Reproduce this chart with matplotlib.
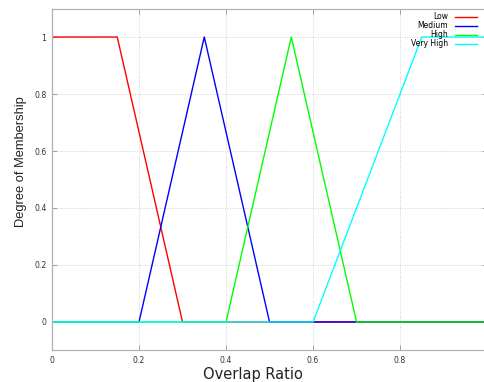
import matplotlib
matplotlib.use("Agg")
import matplotlib.pyplot as plt

# Membership function breakpoints (x) and degrees (y)
low_x = [0.0, 0.15, 0.30, 1.0]
low_y = [1.0, 1.0, 0.0, 0.0]
medium_x = [0.0, 0.20, 0.35, 0.50, 1.0]
medium_y = [0.0, 0.0, 1.0, 0.0, 0.0]
high_x = [0.0, 0.40, 0.55, 0.70, 1.0]
high_y = [0.0, 0.0, 1.0, 0.0, 0.0]
very_high_x = [0.0, 0.60, 0.85, 1.0]
very_high_y = [0.0, 0.0, 1.0, 1.0]

series = [
    ("Low", low_x, low_y, "#ff0000"),
    ("Medium", medium_x, medium_y, "#0000ff"),
    ("High", high_x, high_y, "#00ff00"),
    ("Very High", very_high_x, very_high_y, "#00ffff"),
]

x_ticks = [0, 0.2, 0.4, 0.6, 0.8, 1]
y_ticks = [0, 0.2, 0.4, 0.6, 0.8, 1]
tick_labels = ["0", "0.2", "0.4", "0.6", "0.8", "1"]

fig = plt.figure(figsize=(4.84, 3.82), dpi=100)
ax = fig.add_axes([0.1074, 0.0825, 0.899, 0.8952])

for name, xs, ys, col in series:
    ax.plot(xs, ys, color=col, lw=1.0, label=name)

ax.set_xlim(0, 1)
ax.set_ylim(-0.1, 1.1)
ax.set_xticks(x_ticks)
ax.set_yticks(y_ticks)
ax.set_xticklabels(tick_labels)
ax.set_yticklabels(tick_labels)
ax.tick_params(direction="in", length=3.6, width=0.7, color="#a0a0a0",
               labelsize=5.6, labelcolor="#333333", pad=4,
               top=True, right=True)
ax.grid(True, color="#c0c0c0", linestyle=(0, (1, 2)), linewidth=0.6)
for s in ax.spines.values():
    s.set_color("#b0b0b0")
    s.set_linewidth(0.9)

ax.set_xlabel("Overlap Ratio", fontsize=10.5, color="#222222")
ax.xaxis.set_label_coords(0.462, -0.048)
ax.set_ylabel("Degree of Membership", fontsize=9.3, color="#222222",
              family=["Liberation Sans", "DejaVu Sans"])
ax.yaxis.set_label_coords(-0.0575, 0.551)

leg = ax.legend(loc="upper right", fontsize=5.5, frameon=False,
                markerfirst=False, handlelength=2.9, handletextpad=0.9,
                labelspacing=0.0, borderaxespad=0.0, borderpad=0.0,
                bbox_to_anchor=(0.977, 0.989))
for t in leg.get_texts():
    t.set_ha("right")
leg._legend_box.align = "right"

fig.savefig("out.png", dpi=100)
